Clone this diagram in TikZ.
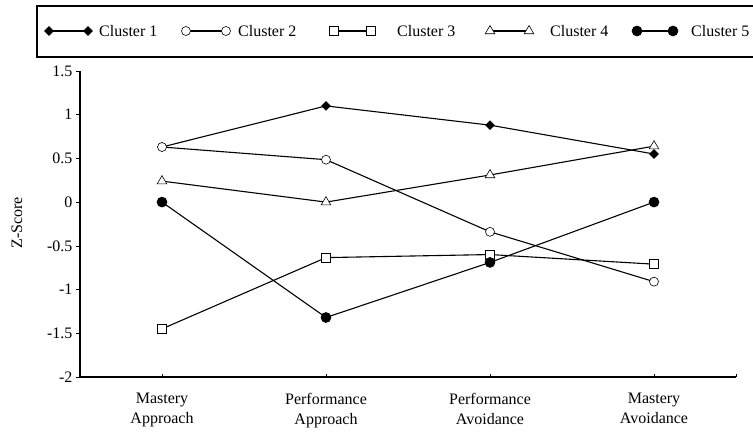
\documentclass[tikz,border=0pt]{standalone}
\usepackage{fontspec}
\setmainfont{Liberation Serif}
\usetikzlibrary{shapes.geometric}
\tikzset{
  mk/.style={inner sep=0pt, draw=black, line width=0.6pt},
  dmk/.style={mk, diamond, fill=black, minimum size=9pt},
  omk/.style={mk, circle, fill=white, minimum size=9pt},
  smk/.style={mk, rectangle, fill=white, minimum size=9pt},
  tmk/.style={mk, regular polygon, regular polygon sides=3, fill=white, minimum size=11pt},
  fmk/.style={mk, circle, fill=black, minimum size=10pt},
  trend/.style={line width=1.1pt},
  keytext/.style={anchor=west, inner sep=0pt},
}

\begin{document}
\begin{tikzpicture}[x=1pt,y=1pt,font=\fontsize{16}{20}\selectfont]
   \clip (0,0) rectangle (753,433);
   \fill[white] (0,0) rectangle (753,433);
   % legend
   \draw[line width=1.2pt] (37,376) rectangle (770,427);
   \coordinate (l1a) at (49,402); \coordinate (l1b) at (88,402);
   \coordinate (l2a) at (186,402); \coordinate (l2b) at (226,402);
   \coordinate (l3a) at (334,402); \coordinate (l3b) at (371,402);
   \coordinate (l4a) at (490,402); \coordinate (l4b) at (529,402);
   \coordinate (l5a) at (637,402); \coordinate (l5b) at (673,402);
   \draw[trend] (l1a) -- (l1b);
   \draw[trend] (l2a) -- (l2b);
   \draw[trend] (l3a) -- (l3b);
   \draw[trend] (l4a) -- (l4b);
   \draw[trend] (l5a) -- (l5b);
   \node[dmk] at (l1a) {}; \node[dmk] at (l1b) {};
   \node[omk] at (l2a) {}; \node[omk] at (l2b) {};
   \node[smk] at (l3a) {}; \node[smk] at (l3b) {};
   \node[tmk] at (l4a) {}; \node[tmk] at (l4b) {};
   \node[fmk] at (l5a) {}; \node[fmk] at (l5b) {};
   \node[keytext] (t1) at (99,402) {Cluster 1};
   \node[keytext] (t2) at (238,402) {Cluster 2};
   \node[keytext] (t3) at (397,402) {Cluster 3};
   \node[keytext] (t4) at (550,402) {Cluster 4};
   \node[keytext] (t5) at (691,402) {Cluster 5};
   \node[rotate=90] (ylab) at (17,210) {Z-Score};
   \begin{scope}[shift={(-2pt,230.9pt)},x=164pt,y=87.43pt]
   % axes
   \draw[line width=1.6pt] (0.5,1.5) -- (0.5,-2) -- (4.5,-2);
   \draw (0.5,1.5) -- ++(-4pt,0) node[left] {1.5};
   \draw (0.5,1) -- ++(-4pt,0) node[left] {1};
   \draw (0.5,0.5) -- ++(-4pt,0) node[left] {0.5};
   \draw (0.5,0) -- ++(-4pt,0) node[left] {0};
   \draw (0.5,-0.5) -- ++(-4pt,0) node[left] {-0.5};
   \draw (0.5,-1) -- ++(-4pt,0) node[left] {-1};
   \draw (0.5,-1.5) -- ++(-4pt,0) node[left] {-1.5};
   \draw (0.5,-2) -- ++(-4pt,0) node[left] {-2};
   \draw (1,-2) -- ++(0,3pt);
   \draw (2,-2) -- ++(0,3pt);
   \draw (3,-2) -- ++(0,3pt);
   \draw (4,-2) -- ++(0,3pt);
   \draw (4.5,-2) -- ++(0,3pt);
   \node[below=13pt,align=center] (g1) at (1,-2) {Mastery\\Approach};
   \node[below=13pt,align=center] (g2) at (2,-2) {Performance\\Approach};
   \node[below=13pt,align=center] (g3) at (3,-2) {Performance\\Avoidance};
   \node[below=13pt,align=center] (g4) at (4,-2) {Mastery\\Avoidance};
   % cluster means
   \coordinate (c1a) at (1,0.63);  \coordinate (c1b) at (2,1.10);
   \coordinate (c1c) at (3,0.88);  \coordinate (c1d) at (4,0.55);
   \coordinate (c2a) at (1,0.63);  \coordinate (c2b) at (2,0.485);
   \coordinate (c2c) at (3,-0.34); \coordinate (c2d) at (4,-0.91);
   \coordinate (c3a) at (1,-1.45); \coordinate (c3b) at (2,-0.635);
   \coordinate (c3c) at (3,-0.60); \coordinate (c3d) at (4,-0.71);
   \coordinate (c4a) at (1,0.24);  \coordinate (c4b) at (2,0);
   \coordinate (c4c) at (3,0.31);  \coordinate (c4d) at (4,0.64);
   \coordinate (c5a) at (1,0);     \coordinate (c5b) at (2,-1.32);
   \coordinate (c5c) at (3,-0.69); \coordinate (c5d) at (4,0);
   \draw[trend] (c1a) -- (c1b) -- (c1c) -- (c1d);
   \draw[trend] (c2a) -- (c2b) -- (c2c) -- (c2d);
   \draw[trend] (c3a) -- (c3b) -- (c3c) -- (c3d);
   \draw[trend] (c4a) -- (c4b) -- (c4c) -- (c4d);
   \draw[trend] (c5a) -- (c5b) -- (c5c) -- (c5d);
   \node[dmk] at (c1a) {}; \node[dmk] at (c1b) {};
   \node[dmk] at (c1c) {}; \node[dmk] at (c1d) {};
   \node[omk] at (c2a) {}; \node[omk] at (c2b) {};
   \node[omk] at (c2c) {}; \node[omk] at (c2d) {};
   \node[smk] at (c3a) {}; \node[smk] at (c3b) {};
   \node[smk] at (c3c) {}; \node[smk] at (c3d) {};
   \node[tmk] at (c4a) {}; \node[tmk] at (c4b) {};
   \node[tmk] at (c4c) {}; \node[tmk] at (c4d) {};
   \node[fmk] at (c5a) {}; \node[fmk] at (c5b) {};
   \node[fmk] at (c5c) {}; \node[fmk] at (c5d) {};
   \end{scope}
\end{tikzpicture}
\end{document}
